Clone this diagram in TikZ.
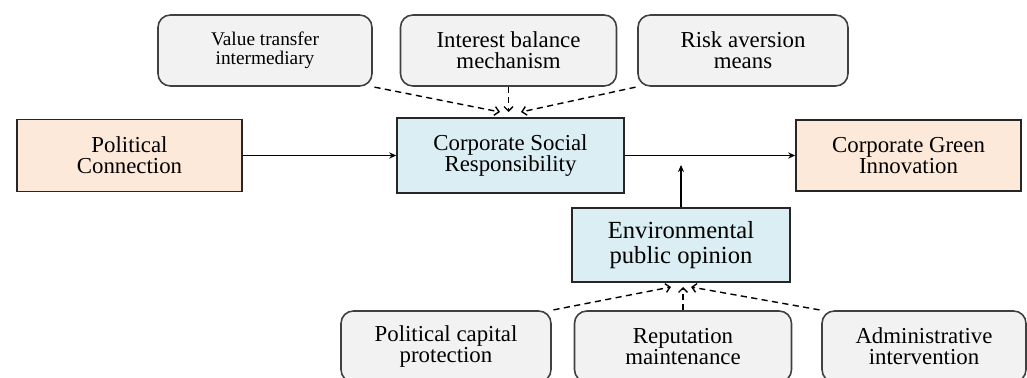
\documentclass[tikz,border=0pt]{standalone}
\usepackage{fontspec}
\setmainfont{Liberation Serif}
\usetikzlibrary{arrows.meta}
\definecolor{boxgray}{HTML}{F2F2F2}
\definecolor{peach}{HTML}{FCE9DA}
\definecolor{lightblue}{HTML}{DAEEF3}
\begin{document}
\begin{tikzpicture}[x=0.02cm, y=-0.02cm]
        \tikzstyle{every node}=[align=center, inner sep=1pt, font=\fontsize{13}{12}\selectfont]
        \tikzstyle{mech}=[draw=black!75, line width=0.9pt, rounded corners=7pt, fill=boxgray, minimum height=1.42cm]
        \tikzstyle{var}=[draw=black!85, line width=0.9pt, minimum height=1.44cm, minimum width=4.5cm]
        \tikzstyle{dep}=[var, fill=peach]
        \tikzstyle{med}=[var, fill=lightblue]
        \tikzstyle{main}=[line width=0.7pt, -{Stealth[length=4pt,width=3.5pt]}]
        \tikzstyle{channel}=[line width=0.8pt, dash pattern=on 3.5pt off 2.5pt, -{Straight Barb[length=2.5pt,width=5pt]}]
        \useasboundingbox (0,0) rectangle (1027,378);
        \node [mech, minimum width=4.28cm, font=\fontsize{11}{11}\selectfont] (vti) at (265,50.5) {Value transfer\\intermediary};
        \node [mech, minimum width=4.32cm] (ibm) at (508.5,50.5) {Interest balance\\mechanism};
        \node [mech, minimum width=4.2cm] (ram) at (743,50.5) {Risk aversion\\means};
        \node [dep] (pc) at (129.5,155.5) {Political\\Connection};
        \node [med, minimum width=4.54cm, minimum height=1.5cm] (csr) at (510.5,155.5) {Corporate Social\\Responsibility};
        \node [dep, minimum height=1.42cm] (cgi) at (908.5,155.5) {Corporate Green\\Innovation};
        \node [med, minimum width=4.36cm, minimum height=1.48cm, font=\fontsize{14}{14.5}\selectfont] (epo) at (681,245) {Environmental\\public opinion};
        \node [mech, minimum width=4.2cm] (pcp) at (446,346.5) {Political capital\\protection};
        \node [mech, minimum width=4.34cm] (rm) at (683,346.5) {Reputation\\maintenance};
        \node [mech, minimum width=4.08cm] (ai) at (924,346.5) {Administrative\\intervention};
        \coordinate (up1) at (500,112);
        \coordinate (up2) at (508.5,112);
        \coordinate (up3) at (521,112);
        \coordinate (dn1) at (671,287);
        \coordinate (dn2) at (683,287);
        \coordinate (dn3) at (691,287);
        \coordinate (mod) at (681,165);
        \draw [main] (pc) -- (csr);
        \draw [main] (csr) -- (cgi);
        \draw [main] (epo) -- (mod);
        \draw [channel, shorten <=1pt] (vti.south east) -- (up1);
        \draw [channel] (ibm) -- (up2);
        \draw [channel, shorten <=1pt] (ram.south west) -- (up3);
        \draw [channel, shorten <=1pt] (pcp.north east) -- (dn1);
        \draw [channel] (rm) -- (dn2);
        \draw [channel, shorten <=1pt] (ai.north west) -- (dn3);
    \end{tikzpicture}
\end{document}
